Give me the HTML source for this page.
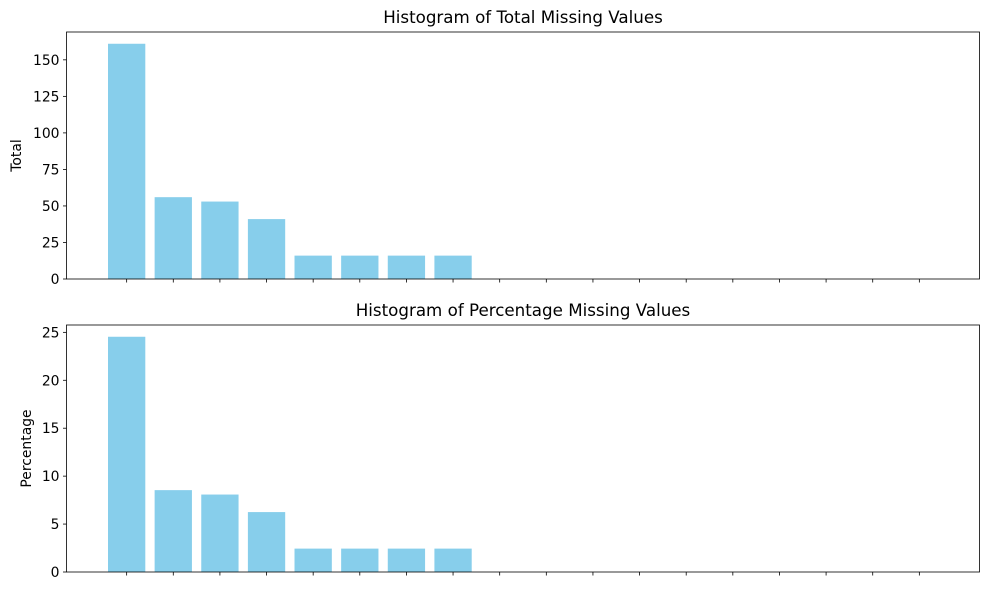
<!DOCTYPE html>
<html><head><meta charset="utf-8"><style>
body{margin:0;background:#fff;font-family:"Liberation Sans","DejaVu Sans",sans-serif;}
svg text{font-family:"DejaVu Sans","Liberation Sans",sans-serif;}
</style></head><body>
<svg id="chart" width="989" height="590" xmlns="http://www.w3.org/2000/svg"></svg>
<script>
const categories = ["c1","c2","c3","c4","c5","c6","c7","c8","c9","c10","c11","c12","c13","c14","c15","c16","c17","c18"];
const totals = [161,56,53,41,16,16,16,16,0,0,0,0,0,0,0,0,0,0];
const percents = [24.54,8.54,8.08,6.25,2.44,2.44,2.44,2.44,0,0,0,0,0,0,0,0,0,0];
const totalTicks = [0,25,50,75,100,125,150];
const percentTicks = [0,5,10,15,20,25];

const svg = document.getElementById('chart');
const NS = 'http://www.w3.org/2000/svg';
function mk(tag, attrs, parent){const e=document.createElementNS(NS,tag);for(const k in attrs)e.setAttribute(k,attrs[k]);(parent||svg).appendChild(e);return e;}

function panel(name, top, bottom, values, ticks, title, ylabel, ylabelX){
  const L=66.5, R=979.5;
  const g = mk('g',{});
  
  
  const n = categories.length;
  const xmin=-0.4-0.05*(n-0.2), xmax=n-1+0.4+0.05*(n-0.2);
  const x = v => L + (v-xmin)/(xmax-xmin)*(R-L);
  const vmax = Math.max(...values)*1.05;
  const y = v => bottom - v/vmax*(bottom-top);
  values.forEach((v,i)=>{
    const b = mk('rect',{x:x(i-0.4),y:y(v),width:x(i+0.4)-x(i-0.4),height:bottom-y(v),fill:'#87ceeb'},g);
    
    
  });
  ticks.forEach(t=>{
    mk('line',{x1:L-3.5,x2:L,y1:y(t),y2:y(t),stroke:'#000','stroke-width':0.8},g);
    const tx = mk('text',{x:L-7,y:y(t)+5,'text-anchor':'end','font-size':13.9,fill:'#000'},g);
    tx.textContent=t;
    
    
  });
  categories.forEach((c,i)=>{
    mk('line',{x1:x(i),x2:x(i),y1:bottom,y2:bottom+3.5,stroke:'#000','stroke-width':0.8},g);
  });
  const fr = mk('rect',{x:L,y:top,width:R-L,height:bottom-top,fill:'none',stroke:'#000','stroke-width':0.8},g);
  
  
  const t = mk('text',{x:(L+R)/2,y:top-9,'text-anchor':'middle','font-size':16.7,fill:'#000'},g);
  t.textContent=title;
  
  
  const yl = mk('text',{x:ylabelX,y:(top+bottom)/2,'text-anchor':'middle','font-size':13.9,fill:'#000',transform:`rotate(-90 ${ylabelX} ${(top+bottom)/2})`},g);
  yl.textContent=ylabel;
  
  
}
panel('total-panel', 32, 279, totals, totalTicks, 'Histogram of Total Missing Values', 'Total', 21);
panel('percentage-panel', 325, 572, percents, percentTicks, 'Histogram of Percentage Missing Values', 'Percentage', 31);
</script>
</body></html>
